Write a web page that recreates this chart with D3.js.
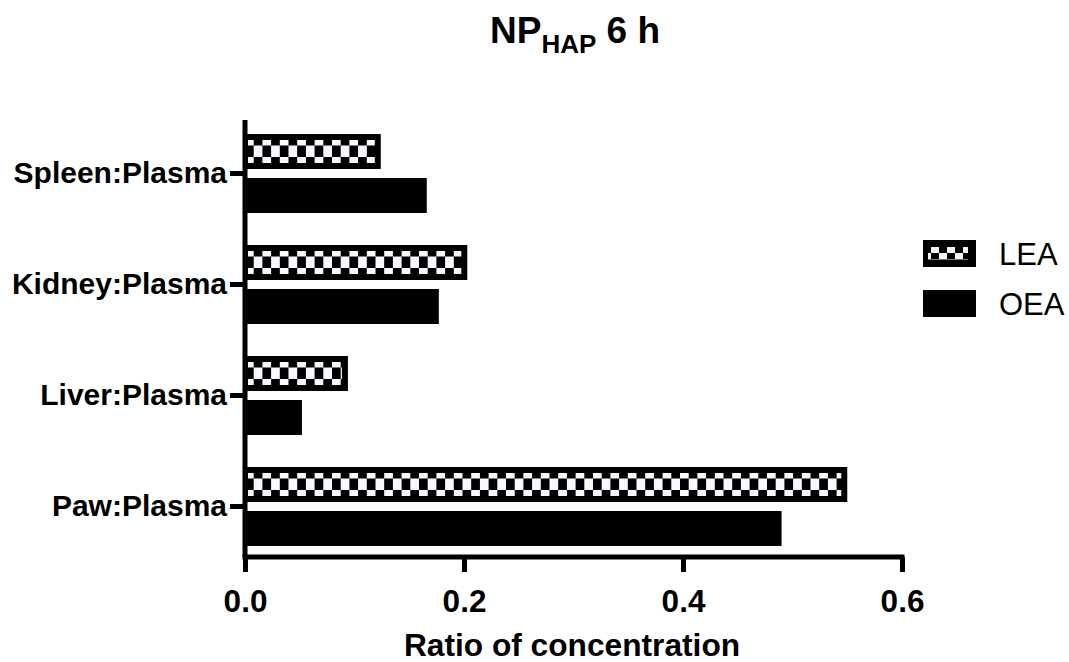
<!DOCTYPE html>
<html>
<head>
<meta charset="utf-8">
<script src="https://cdn.jsdelivr.net/npm/d3@7"></script>
<style>
  body { margin: 0; background: #fff; }
  text { font-family: "Liberation Sans", Arial, sans-serif; fill: #000; }
</style>
</head>
<body>
<svg width="1069" height="662"></svg>
<script>
// data
var categories = ['Spleen:Plasma', 'Kidney:Plasma', 'Liver:Plasma', 'Paw:Plasma'];
var series = ['LEA', 'OEA'];
var leaValues = [0.124, 0.203, 0.094, 0.550];
var oeaValues = [0.166, 0.177, 0.052, 0.490];
var xTicks = [0, 0.2, 0.4, 0.6];

var rows = categories.map(function (c, i) {
  return { cat: c, LEA: leaValues[i], OEA: oeaValues[i] };
});

var svg = d3.select('svg');
var x = d3.scaleLinear().domain([0, 0.6]).range([245, 902]);
var y = d3.scaleBand().domain(categories).range([118, 562]);
var ys = d3.scaleBand().domain(series).range([-39.5, 39.5]).paddingInner(0.2045);
var axisY = 557;

// checker pattern (user space of each bar group)
var defs = svg.append('defs');
function checker(id, cw, ch) {
  var p = defs.append('pattern').attr('id', id)
    .attr('patternUnits', 'userSpaceOnUse')
    .attr('width', cw * 2).attr('height', ch * 2);
  p.append('rect').attr('width', cw * 2).attr('height', ch * 2).attr('fill', '#f8f9ff');
  p.append('rect').attr('x', cw).attr('width', cw).attr('height', ch).attr('fill', '#000');
  p.append('rect').attr('y', ch).attr('width', cw).attr('height', ch).attr('fill', '#000');
}
checker('chk', 8.7, 11.5);
checker('chkLeg', 8, 6.5);

var groups = svg.append('g').selectAll('g').data(rows).enter().append('g')
  .attr('transform', function (d) { return 'translate(0,' + (y(d.cat) + y.bandwidth() / 2) + ')'; });

var bars = groups.selectAll('g').data(function (d) {
  return series.map(function (s) { return { key: s, value: d[s] }; });
}).enter().append('g')
  .attr('transform', function (d) { return 'translate(' + x(0) + ',' + ys(d.key) + ')'; });

bars.append('rect')
  .attr('width', function (d) { return x(d.value) - x(0); })
  .attr('height', ys.bandwidth())
  .attr('fill', '#000');

bars.filter(function (d) { return d.key === 'LEA'; }).append('rect')
  .attr('x', 3).attr('y', 6)
  .attr('width', function (d) { return Math.max(0, x(d.value) - x(0) - 9); })
  .attr('height', 23)
  .attr('fill', 'url(#chk)');

// axes
var xAxis = svg.append('g').attr('transform', 'translate(0,' + axisY + ')')
  .call(d3.axisBottom(x).tickValues(xTicks).tickFormat(d3.format('.1f')).tickSize(15).tickPadding(18));
xAxis.select('.domain').attr('d', 'M' + (x(0) - 2.5) + ',0H' + (x(0.6) + 2.5)).attr('stroke-width', 5);
xAxis.selectAll('.tick line').attr('stroke-width', 5);
xAxis.selectAll('.tick text').attr('font-size', 31.5).attr('font-weight', 'bold')
  .attr('font-family', '"Liberation Sans", Arial, sans-serif');

var yAxis = svg.append('g').attr('transform', 'translate(' + x(0) + ',0)')
  .call(d3.axisLeft(y).tickSize(15).tickPadding(3));
yAxis.select('.domain').attr('d', 'M0,120V' + axisY).attr('stroke-width', 5);
yAxis.selectAll('.tick line').attr('stroke-width', 5);
yAxis.selectAll('.tick text').attr('font-size', 30).attr('font-weight', 'bold')
  .attr('font-family', '"Liberation Sans", Arial, sans-serif');

// axis title
svg.append('text').attr('x', 572).attr('y', 656).attr('text-anchor', 'middle')
  .attr('font-size', 31.7).attr('font-weight', 'bold').text('Ratio of concentration');

// title
var title = svg.append('text').attr('x', 575).attr('y', 43).attr('text-anchor', 'middle')
  .attr('font-size', 37).attr('font-weight', 'bold');
title.append('tspan').text('NP');
title.append('tspan').attr('font-size', 26).attr('dy', 10).text('HAP');
title.append('tspan').attr('dy', -10).text('\u00a06 h');

// legend
var legend = svg.append('g').selectAll('g').data(series).enter().append('g')
  .attr('transform', function (d, i) { return 'translate(923,' + (240 + i * 50) + ')'; });
legend.append('rect').attr('width', 53).attr('height', 27).attr('fill', '#000');
legend.filter(function (d) { return d === 'LEA'; }).append('rect')
  .attr('x', 5).attr('y', 7).attr('width', 40).attr('height', 13).attr('fill', 'url(#chkLeg)');
legend.append('text').attr('x', 76).attr('y', 25).attr('font-size', 31).text(function (d) { return d; });
</script>
</body>
</html>
